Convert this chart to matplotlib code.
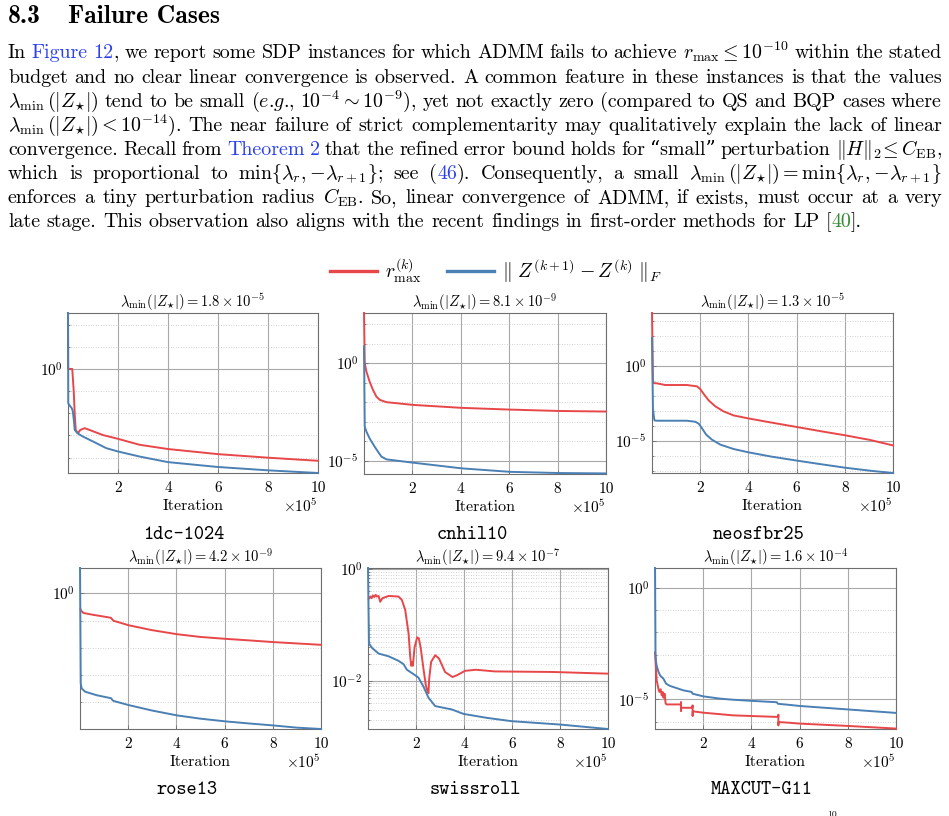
import re
import numpy as np
import matplotlib
matplotlib.use("Agg")
import matplotlib.pyplot as plt
from matplotlib.lines import Line2D
from matplotlib.ticker import NullFormatter

plt.rcParams["font.family"] = ["cmr10", "DejaVu Serif"]
plt.rcParams["mathtext.fontset"] = "cm"
plt.rcParams["axes.formatter.use_mathtext"] = True

RED = "#E8474A"
BLUE = "#4B80B4"
LINK = "#2A3FF0"
CITE = "#2E8B2E"
K = "black"

# ---- paragraph text (segments of (text, colour)) ----
heading_num = "8.3"
heading = "Failure Cases"
para = [
    [("In ", K), ("Figure 12", LINK),
     (r", we report some SDP instances for which ADMM fails to achieve $r_{\max}\leq 10^{-10}$ within the stated", K)],
    [("budget and no clear linear convergence is observed. A common feature in these instances is that the values", K)],
    [(r"$\lambda_{\min}\,(|Z_{\star}|)$ tend to be small ($e$.$g$., $10^{-4}\sim 10^{-9}$), yet not exactly zero (compared to QS and BQP cases where", K)],
    [(r"$\lambda_{\min}\,(|Z_{\star}|) < 10^{-14}$). The near failure of strict complementarity may qualitatively explain the lack of linear", K)],
    [("convergence. Recall from ", K), ("Theorem 2", LINK),
     (r" that the refined error bound holds for “small” perturbation $\|H\|_2\!\leq C_{\mathrm{EB}}$,", K)],
    [(r"which is proportional to $\min\lbrace\lambda_r,{-}\lambda_{r+1}\rbrace$; see (", K), ("46", LINK),
     (r"). Consequently, a small $\lambda_{\min}\,(|Z_{\star}|) = \min\lbrace\lambda_r,{-}\lambda_{r+1}\rbrace$", K)],
    [(r"enforces a tiny perturbation radius $C_{\mathrm{EB}}$. So, linear convergence of ADMM, if exists, must occur at a very", K)],
    [("late stage. This observation also aligns with the recent findings in first-order methods for LP [", K),
     ("40", CITE), ("].", K)],
]

# ---- chart data: x in units of 1e5 iterations, y as log10 values ----
names = ["1dc-1024", "cnhil10", "neosfbr25", "rose13", "swissroll", "MAXCUT-G11"]
lam_mant = [1.8, 8.1, 1.3, 4.2, 9.4, 1.6]
lam_exp = [-5, -9, -5, -9, -7, -4]

r_x = [
    [0, 0.005, 0.03, 0.17, 0.23, 0.27, 0.31, 0.40, 0.49, 0.67, 0.93, 1.4, 2.0, 2.87, 4.0, 6.0, 8.0, 10.0],
    [0, 0.03, 0.1, 0.23, 0.37, 0.51, 0.65, 0.93, 2.03, 4.03, 6.04, 8.04, 10],
    [0, 0.04, 0.21, 0.55, 1.45, 1.87, 2.0, 2.14, 2.35, 2.63, 2.97, 3.39, 4.01, 4.91, 6.02, 6.98, 8.02, 9.06, 10],
    [0.02, 0.03, 0.14, 0.55, 1.11, 1.29, 1.33, 1.39, 1.52, 2.01, 2.98, 4.02, 4.99, 6.03, 7.06, 8.03, 10],
    [0.03, 0.1, 0.15, 0.2, 0.26, 0.32, 0.37, 0.44, 0.51, 0.6, 0.86, 1.27, 1.41, 1.55, 1.69, 1.76, 1.8,
     1.84, 1.87, 1.94, 2.05, 2.12, 2.2, 2.31, 2.41, 2.49, 2.52, 2.55, 2.63, 2.8, 2.96, 3.21, 3.52, 3.7,
     4.04, 4.5, 5.29, 7.7, 10],
    [0, 0.02, 0.07, 0.14, 0.18, 0.23, 0.28, 0.32, 0.35, 0.40, 0.44, 0.48, 1.07, 1.08, 1.08, 1.09, 1.55,
     1.56, 1.56, 1.57, 2.01, 3.25, 4.05, 5.11, 5.12, 5.12, 5.13, 5.58, 6.02, 7.95, 10],
]
r_y = [
    [2.52, 0.0, 0.0, 0.0, -1.02, -2.07, -2.75, -2.9, -2.75, -2.67, -2.78, -2.98, -3.15, -3.42, -3.61, -3.84, -4.0, -4.14],
    [2.57, 0.0, -0.43, -0.94, -1.37, -1.71, -1.88, -2.0, -2.14, -2.29, -2.38, -2.45, -2.48],
    [3.5, -1.15, -1.17, -1.28, -1.28, -1.37, -1.55, -1.86, -2.3, -2.7, -3.03, -3.3, -3.5, -3.76, -4.07,
     -4.34, -4.62, -4.93, -5.29],
    [-0.58, -0.62, -0.72, -0.79, -0.87, -0.9, -0.95, -1.01, -1.04, -1.17, -1.35, -1.5, -1.6, -1.67, -1.73,
     -1.79, -1.89],
    [-0.53, -0.49, -0.52, -0.47, -0.5, -0.46, -0.49, -0.48, -0.585, -0.52, -0.48, -0.49, -0.55, -0.73,
     -1.15, -1.57, -1.73, -1.66, -1.73, -1.4, -1.22, -1.24, -1.42, -1.78, -2.08, -2.2, -2.22, -1.96,
     -1.66, -1.54, -1.6, -1.84, -1.93, -1.9, -1.82, -1.8, -1.83, -1.84, -1.87],
    [-2.9, -3.26, -4.15, -4.52, -4.67, -4.55, -4.82, -4.67, -4.93, -4.75, -5.18, -5.23, -5.23, -5.12,
     -5.53, -5.38, -5.38, -5.27, -5.75, -5.54, -5.6, -5.72, -5.75, -5.79, -5.69, -6.17, -6.02, -6.05,
     -6.09, -6.19, -6.31],
]
b_x = [
    [0, 0.01, 0.1, 0.15, 0.19, 0.23, 0.27, 0.38, 0.6, 1.0, 1.53, 2.0, 2.87, 4.0, 6.0, 8.0, 10.0],
    [0, 0.03, 0.1, 0.23, 0.44, 0.58, 0.72, 0.93, 2.03, 4.03, 6.04, 8.04, 10],
    [0, 0.04, 0.1, 0.21, 1.45, 1.8, 1.94, 2.07, 2.25, 2.49, 2.84, 3.39, 4.01, 4.91, 6.02, 6.98, 8.02, 9.06, 10],
    [0, 0.03, 0.07, 0.21, 0.69, 1.29, 1.33, 1.39, 2.01, 2.98, 4.02, 4.99, 6.03, 7.06, 8.03, 9.0, 10],
    [0, 0.04, 0.17, 0.44, 0.86, 1.27, 1.48, 1.62, 1.9, 2.1, 2.31, 2.52, 2.8, 3.14, 3.49, 3.98, 4.94,
     5.98, 7.99, 10],
    [0, 0.02, 0.04, 0.07, 0.14, 0.21, 0.35, 0.46, 0.62, 1.04, 1.18, 1.52, 1.56, 2.01, 2.7, 3.25, 4.01,
     5.05, 5.1, 5.58, 6.02, 7.95, 10],
]
b_y = [
    [2.52, -1.55, -1.7, -1.77, -1.9, -2.27, -2.75, -2.9, -3.05, -3.27, -3.57, -3.72, -3.95, -4.2, -4.42, -4.57, -4.69],
    [0.86, -3.25, -3.51, -3.85, -4.28, -4.54, -4.79, -4.93, -5.1, -5.39, -5.57, -5.63, -5.65],
    [1.84, -2.9, -3.63, -3.65, -3.65, -3.72, -3.85, -4.14, -4.58, -4.91, -5.24, -5.53, -5.75, -6.02, -6.3,
     -6.53, -6.77, -6.97, -7.12],
    [0.93, -3.3, -3.49, -3.61, -3.74, -3.85, -3.9, -3.95, -4.1, -4.3, -4.48, -4.6, -4.7, -4.78, -4.85, -4.93, -4.98],
    [0.02, -1.33, -1.41, -1.51, -1.56, -1.64, -1.7, -1.8, -1.88, -1.94, -2.1, -2.3, -2.45, -2.48, -2.51,
     -2.59, -2.66, -2.72, -2.78, -2.86],
    [0.88, -2.9, -3.3, -3.5, -3.75, -3.93, -4.08, -4.3, -4.4, -4.55, -4.6, -4.67, -4.75, -4.87, -4.97,
     -5.02, -5.07, -5.13, -5.2, -5.25, -5.3, -5.45, -5.61],
]
x_ticks = [2, 4, 6, 8, 10]

W, H = 949, 816
fig = plt.figure(figsize=(W / 100, H / 100), dpi=100)


def fx(x):
    return x / W


def fy(y):
    return 1 - y / H


# ---- heading and justified paragraph ----
fig.text(fx(8), fy(23), heading_num, fontfamily="cmb10", fontsize=18.5, va="baseline")
fig.text(fx(68), fy(23), heading, fontfamily="cmb10", fontsize=18.5, va="baseline")

BODY = 14.4
LEFT, RIGHT = 8, 942
renderer = fig.canvas.get_renderer()


def width_of(s):
    t = fig.text(0, 0, s, fontsize=BODY)
    w = t.get_window_extent(renderer).width
    t.remove()
    return w


def split_words(segs):
    words = [[]]
    for s, c in segs:
        for tok in re.findall(r"\s+|(?:\$[^$]*\$|[^\s$])+", s):
            if tok.isspace():
                words.append([])
            else:
                words[-1].append((tok, c))
    return [w for w in words if w]


space = width_of("a b") - width_of("ab")
for i, segs in enumerate(para):
    words = split_words(segs)
    widths = [[width_of(p) for p, c in w] for w in words]
    total = sum(sum(ws) for ws in widths)
    if i == len(para) - 1:
        gap = space
    else:
        gap = (RIGHT - LEFT - total) / (len(words) - 1)
    x = LEFT
    y = 58.5 + i * 24.1
    for w, ws in zip(words, widths):
        for (p, c), pw in zip(w, ws):
            fig.text(fx(x), fy(y), p, color=c, fontsize=BODY, va="baseline")
            x += pw
        x += gap

# ---- legend ----
handles = [Line2D([], [], color=RED, lw=2.4), Line2D([], [], color=BLUE, lw=2.4)]
fig.legend(handles, [r"$r^{(k)}_{\max}$", r"$\|\ Z^{(k+1)}-Z^{(k)}\ \|_F$"],
           loc="center", bbox_to_anchor=(fx(496), fy(271)), ncol=2, frameon=False,
           fontsize=14.3, handlelength=2.35, handletextpad=0.4, columnspacing=1.3)

# ---- six panels ----
boxes = [(68, 313, 318, 473), (364, 313, 606, 474), (652, 313, 893, 473),
         (80, 568, 321, 729), (368, 568, 608, 729), (655, 568, 896, 729)]
ylims = [(-4.69, 2.52), (-5.68, 2.57), (-7.12, 3.5), (-4.98, 0.93), (-2.86, 0.02), (-6.33, 0.88)]
ymajor = [[0], [0, -5], [0, -5], [0], [0, -2], [0, -5]]
name_pos = [(184, 535), (472, 535), (759, 535), (187, 790), (475, 790), (762, 790)]

for i in range(6):
    l, t, r, b = boxes[i]
    lo, hi = ylims[i]
    ax = fig.add_axes([fx(l), fy(b), (r - l) / W, (b - t) / H])
    ax.semilogy(r_x[i], 10.0 ** np.array(r_y[i]), color=RED, lw=1.4, clip_on=False, zorder=3)
    ax.semilogy(b_x[i], 10.0 ** np.array(b_y[i]), color=BLUE, lw=1.4, clip_on=False, zorder=3)

    ax.set_xticks(x_ticks)
    ax.set_xticklabels([str(v) for v in x_ticks])
    ax.set_yticks([10.0 ** e for e in ymajor[i]])
    ax.set_yticklabels([r"$10^{%d}$" % e for e in ymajor[i]])
    if i == 4:
        minor = [k * 10.0 ** e for e in range(-3, 1) for k in range(1, 10)
                 if not (k == 1 and e in ymajor[i])]
    else:
        minor = [10.0 ** e for e in range(-8, 5) if e not in ymajor[i]]
    minor = [m for m in minor if 10.0 ** lo <= m <= 10.0 ** hi]
    ax.set_yticks(minor, minor=True)
    ax.yaxis.set_minor_formatter(NullFormatter())
    ax.set_xlim(0, 10)
    ax.set_ylim(10.0 ** lo, 10.0 ** hi)

    ax.grid(which="major", color="#A8A8A8", lw=0.8, ls="-")
    ax.grid(which="minor", axis="y", color="#C4C4C4", lw=0.6, ls=(0, (1, 2)))
    ax.set_axisbelow(True)
    for sp in ax.spines.values():
        sp.set_color("#6E6E6E")
        sp.set_linewidth(0.8)
    ax.tick_params(which="both", direction="in", color="#6E6E6E", width=0.6)
    ax.tick_params(which="major", length=3)
    ax.tick_params(which="minor", length=1.5)
    ax.tick_params(axis="x", labelsize=11, pad=6)
    ax.tick_params(axis="y", labelsize=11, pad=4)

    ax.set_title(r"$\lambda_{\min}(|Z_{\star}|) = %.1f\times 10^{%d}$" % (lam_mant[i], lam_exp[i]),
                 fontsize=10.5, pad=1.5)
    ax.set_xlabel("Iteration", fontsize=11.5, va="center")
    ax.xaxis.set_label_coords(0.5, -33 / (b - t))
    ax.annotate(r"$\times 10^{5}$", xy=(1, 0), xycoords="axes fraction", xytext=(0, -33),
                textcoords="offset pixels", ha="right", va="center", fontsize=11)

    nx, ny = name_pos[i]
    fig.text(fx(nx), fy(ny), names[i], fontfamily="cmtt10", fontsize=14, ha="center", va="center")

# cut-off fragment at the bottom edge
fig.text(fx(827), fy(811), "10", fontsize=7, va="top")

fig.savefig("out.png", dpi=100)
